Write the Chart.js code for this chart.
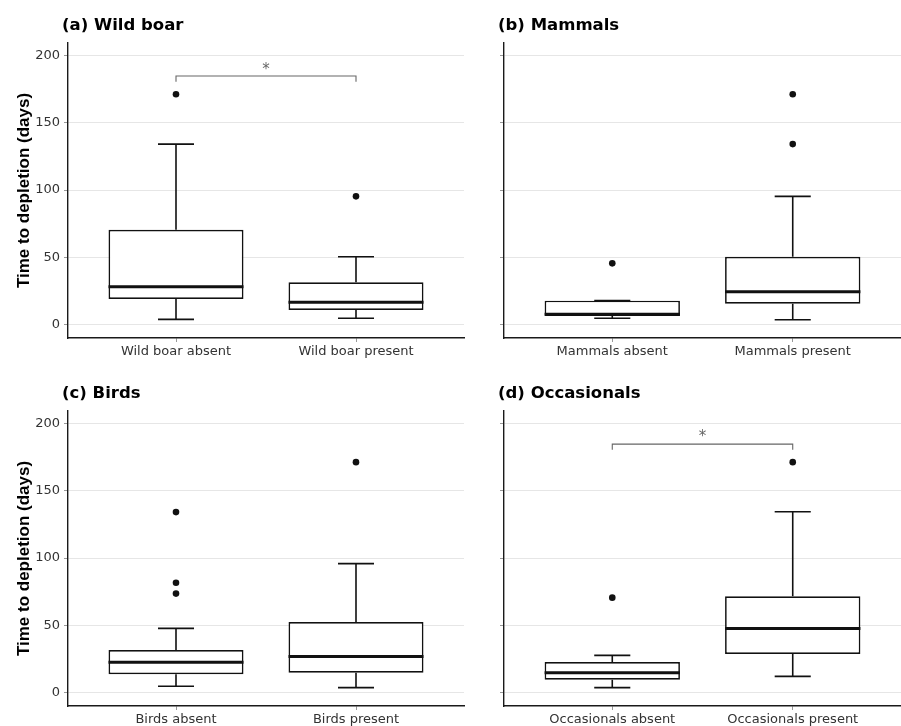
<!DOCTYPE html>
<html lang="en">
<head>
<meta charset="UTF-8">
<title>Time to depletion</title>
<script src="https://cdn.jsdelivr.net/npm/chart.js@4.4.0/dist/chart.umd.min.js"></script>
<style>
  html, body { margin: 0; padding: 0; background: #fff; }
  #wrap { position: relative; width: 901px; height: 726px; overflow: hidden; }
  canvas { position: absolute; }
  #cA { left: 0; top: 0; }
  #cB { left: 464px; top: 0; }
  #cC { left: 0; top: 368px; }
  #cD { left: 464px; top: 368px; }
</style>
</head>
<body>
<div id="wrap">
  <canvas id="cA" width="468" height="367"></canvas>
  <canvas id="cB" width="441" height="367"></canvas>
  <canvas id="cC" width="468" height="367"></canvas>
  <canvas id="cD" width="441" height="367"></canvas>
</div>
<script>
// per group: [lower whisker, Q1, median, Q3, upper whisker]
const boarLabels = ['Wild boar absent', 'Wild boar present'];
const boarStats = [[3.7, 18.8, 28.0, 70.4, 134.2], [4.5, 10.6, 16.4, 31.3, 50.3]];
const boarOutliers = [[171.3], [95.3]];
const boarSig = [180.6, 184.9, 192.6]; // bracket foot, bracket top, star

const mammalLabels = ['Mammals absent', 'Mammals present'];
const mammalStats = [[4.5, 6.2, 7.4, 17.6, 17.6], [3.4, 15.4, 24.3, 50.3, 95.3]];
const mammalOutliers = [[45.4], [171.3, 134.2]];

const birdLabels = ['Birds absent', 'Birds present'];
const birdStats = [[4.5, 13.4, 22.3, 31.5, 47.6], [3.5, 14.6, 26.6, 52.3, 95.8]];
const birdOutliers = [[134.2, 81.6, 73.5], [171.4]];

const occLabels = ['Occasionals absent', 'Occasionals present'];
const occStats = [[3.5, 9.4, 14.6, 22.6, 27.5], [11.9, 28.5, 47.6, 71.5, 134.5]];
const occOutliers = [[70.5], [171.4]];
const occSig = [180.6, 184.8, 193.0];

const yTicks = [0, 50, 100, 150, 200];
const yMin = -10.2, yMax = 209.5;
const yTitleText = 'Time to depletion (days)';

const BOX_W = 0.75, CAP_W = 0.2;

const titlePlugin = {
    id: 'panelTitle',
    afterDraw(chart, args, opts) {
        const ctx = chart.ctx;
        ctx.save();
        ctx.font = 'bold 16.5px "DejaVu Sans"';
        ctx.fillStyle = '#000';
        ctx.textBaseline = 'alphabetic';
        ctx.fillText(opts.text, chart.chartArea.left - 6, 29.5);
        ctx.restore();
    }
};

const starPlugin = {
    id: 'sigStar',
    afterDatasetsDraw(chart, args, opts) {
        if (!opts.text) return;
        const {ctx, scales} = chart;
        ctx.save();
        ctx.font = '15px "DejaVu Sans"';
        ctx.fillStyle = '#666';
        ctx.textAlign = 'center';
        ctx.textBaseline = 'alphabetic';
        const m = ctx.measureText(opts.text);
        const cy = scales.y.getPixelForValue(opts.y);
        ctx.fillText(opts.text, scales.x.getPixelForValue(opts.x),
            cy + (m.actualBoundingBoxAscent - m.actualBoundingBoxDescent) / 2);
        ctx.restore();
    }
};

function makePanel(id, title, labels, stats, outliers, sig, yTitle) {
    const boxes = stats.map((s, i) => ({x: i + 1, y: [s[1], s[3]]}));
    const medians = [], whiskers = [], points = [];
    stats.forEach((s, i) => {
        const x = i + 1;
        medians.push({x: x - BOX_W / 2, y: s[2]}, {x: x + BOX_W / 2, y: s[2]}, {x: x, y: null});
        whiskers.push(
            {x: x, y: s[3]}, {x: x, y: s[4]}, {x: x, y: null},
            {x: x - CAP_W / 2, y: s[4]}, {x: x + CAP_W / 2, y: s[4]}, {x: x, y: null},
            {x: x, y: s[0]}, {x: x, y: s[1]}, {x: x, y: null},
            {x: x - CAP_W / 2, y: s[0]}, {x: x + CAP_W / 2, y: s[0]}, {x: x, y: null}
        );
        outliers[i].forEach(v => points.push({x: x, y: v}));
    });

    const datasets = [
        {type: 'scatter', data: points, pointRadius: 3.3, backgroundColor: '#111', borderWidth: 0, order: 0},
        {type: 'line', data: medians, borderColor: '#111', borderWidth: 3, pointRadius: 0, spanGaps: false, order: 0},
        {type: 'bar', data: boxes, backgroundColor: '#fff', borderColor: '#111', borderWidth: 1.7,
         borderSkipped: false, categoryPercentage: 1, barPercentage: BOX_W, order: 1},
        {type: 'line', data: whiskers, borderColor: '#111', borderWidth: 1.6, pointRadius: 0, spanGaps: false, order: 2}
    ];
    if (sig) {
        datasets.push({type: 'line', data: [{x: 1, y: sig[0]}, {x: 1, y: sig[1]}, {x: 2, y: sig[1]}, {x: 2, y: sig[0]}],
            borderColor: '#666', borderWidth: 1.1, pointRadius: 0, order: 0});
    }

    const tickFont = {family: 'DejaVu Sans', size: 13};
    return new Chart(document.getElementById(id), {
        type: 'scatter',
        data: {datasets: datasets},
        plugins: [titlePlugin, starPlugin],
        options: {
            responsive: false,
            animation: false,
            events: [],
            layout: {padding: {top: 43, left: 0, right: 0, bottom: 0}},
            plugins: {
                legend: {display: false},
                tooltip: {enabled: false},
                panelTitle: {text: title},
                sigStar: sig ? {text: '*', x: 1.5, y: sig[2]} : {}
            },
            scales: {
                x: {
                    type: 'linear', min: 0.4, max: 2.6, offset: false,
                    afterBuildTicks: s => { s.ticks = labels.map((_, i) => ({value: i + 1})); },
                    afterFit: s => { s.height = 29; s.paddingLeft = 0; s.paddingRight = 0; },
                    grid: {display: true, drawOnChartArea: false, drawTicks: true, tickLength: 4, tickColor: '#999', offset: false},
                    border: {display: true, color: '#1a1a1a', width: 1.4},
                    ticks: {callback: v => labels[v - 1], color: '#333', font: tickFont, padding: 2, maxRotation: 0, autoSkip: false}
                },
                y: {
                    type: 'linear', min: yMin, max: yMax,
                    afterBuildTicks: s => { s.ticks = yTicks.map(v => ({value: v})); },
                    afterFit: s => { s.width = yTitle ? 68 : 40; s.paddingTop = 0; s.paddingBottom = 0; },
                    grid: {color: '#e6e6e6', lineWidth: 1, tickLength: 4, tickColor: '#999'},
                    border: {display: true, color: '#1a1a1a', width: 1.4},
                    ticks: {callback: v => yTitle ? String(v) : '', color: '#333', font: tickFont, padding: 4},
                    title: {display: !!yTitle, text: yTitle || '', color: '#000',
                        font: {family: 'Liberation Sans', weight: 'bold', size: 17}, padding: {top: 14, bottom: 0}}
                }
            }
        }
    });
}

makePanel('cA', '(a) Wild boar', boarLabels, boarStats, boarOutliers, boarSig, yTitleText);
makePanel('cB', '(b) Mammals', mammalLabels, mammalStats, mammalOutliers, null, null);
makePanel('cC', '(c) Birds', birdLabels, birdStats, birdOutliers, null, yTitleText);
makePanel('cD', '(d) Occasionals', occLabels, occStats, occOutliers, occSig, null);
</script>
</body>
</html>
